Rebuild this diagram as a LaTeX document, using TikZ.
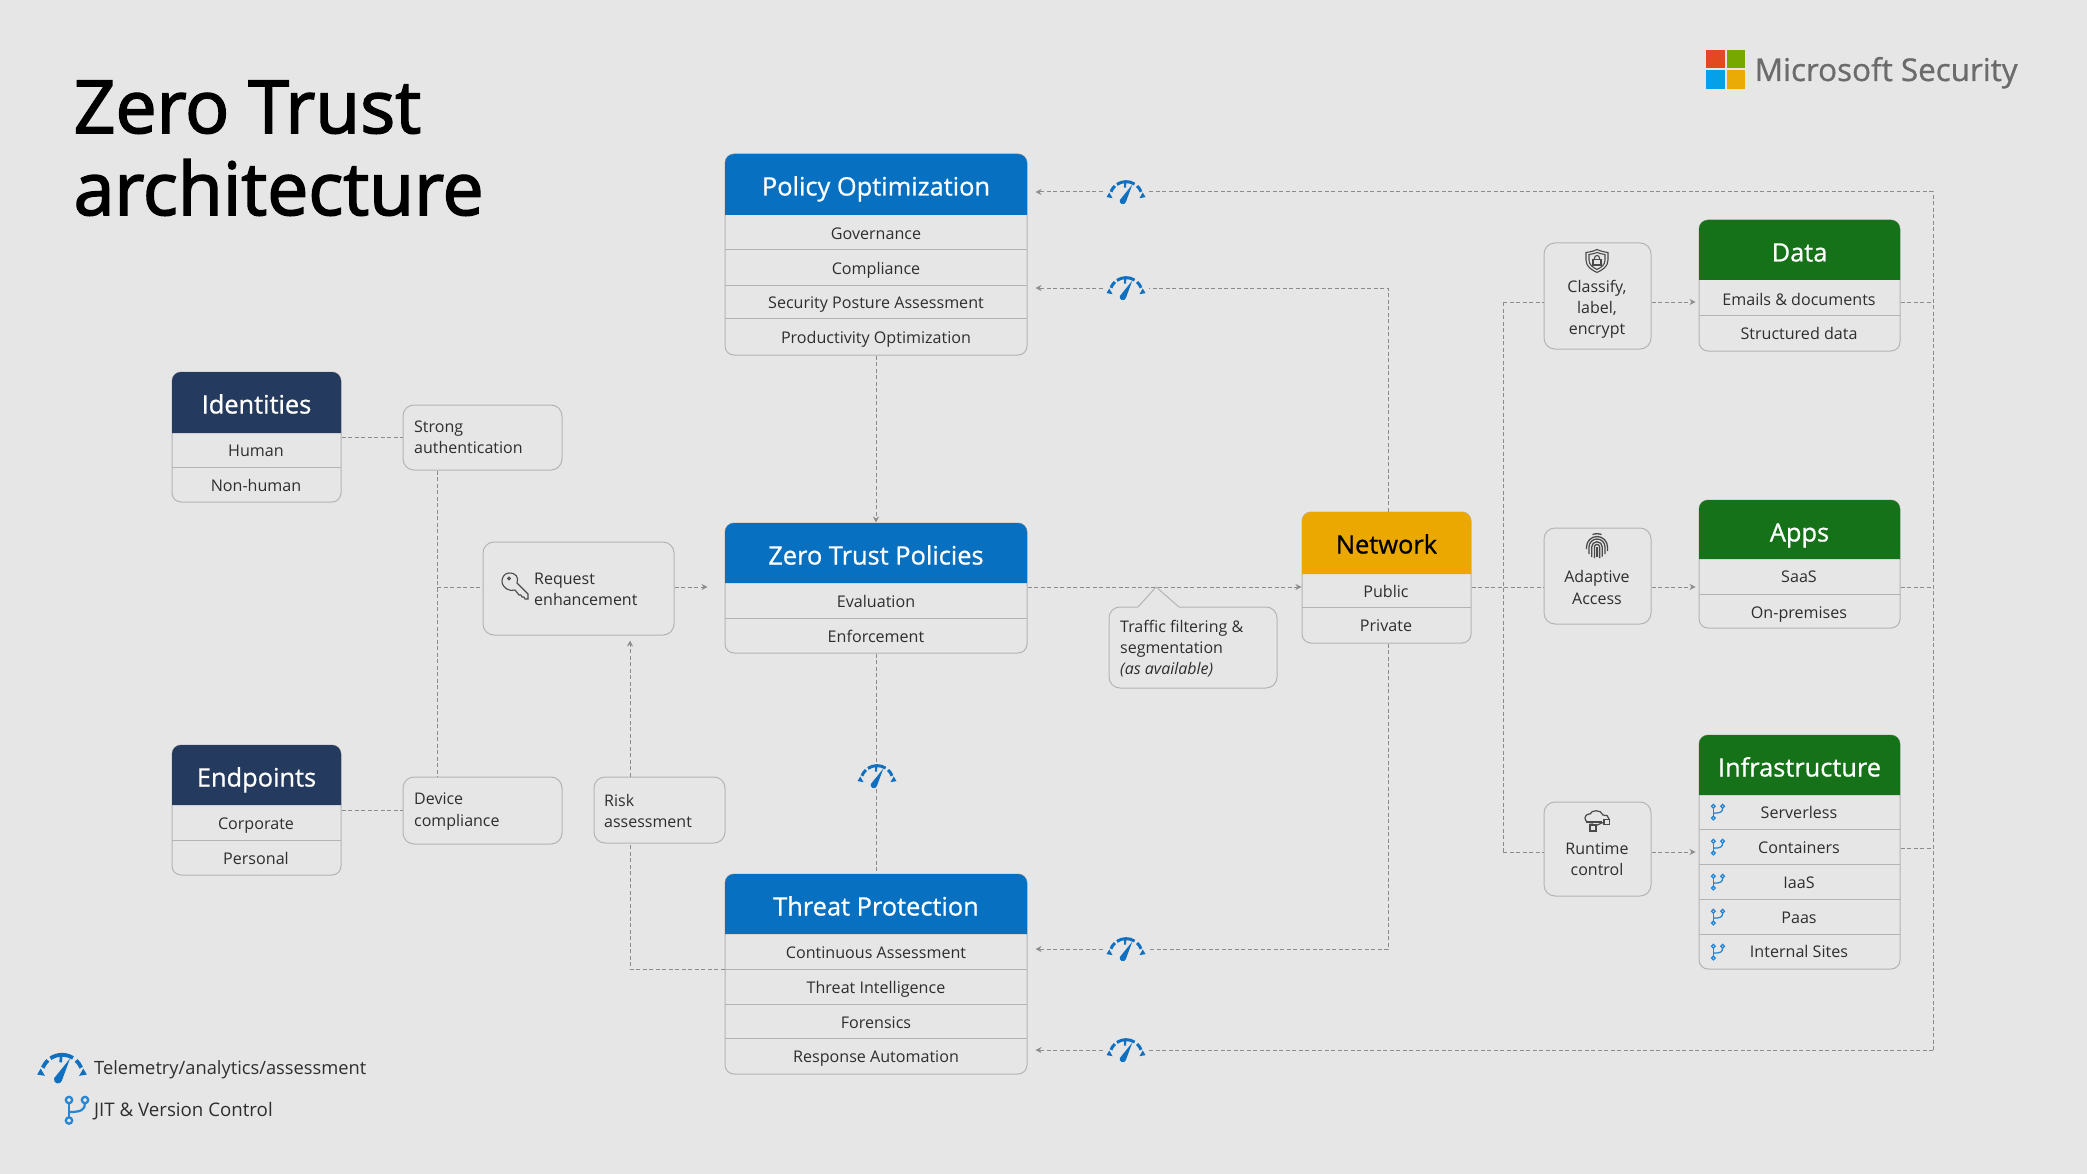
\documentclass[tikz,border=0pt]{standalone}
\usepackage{fontspec}
\setmainfont{Open Sans}
\usetikzlibrary{arrows.meta,calc}
\definecolor{bgc}{HTML}{E6E6E6}
\definecolor{blueh}{HTML}{0870C0}
\definecolor{greenh}{HTML}{157218}
\definecolor{navyh}{HTML}{243A5E}
\definecolor{yellowh}{HTML}{EAA800}
\definecolor{edgec}{HTML}{B4B4B4}
\definecolor{linec}{HTML}{8C8C8C}
\definecolor{txtc}{HTML}{2E2E2E}
\definecolor{iconc}{HTML}{0F6FC0}
\definecolor{branchc}{HTML}{2385D4}
\definecolor{iconk}{HTML}{4A4A4A}
\definecolor{msr}{HTML}{E2491F}
\definecolor{msg}{HTML}{77A800}
\definecolor{msb}{HTML}{05A0E8}
\definecolor{msy}{HTML}{EBAB07}
\newfontfamily\titlefont[FakeBold=2.2]{Open Sans}
\newfontfamily\headfont[FakeBold=0.8]{Open Sans}
\tikzset{
  cardbox/.style={draw=edgec,line width=1pt,rounded corners=9pt,inner sep=0pt},
  headtxt/.style={text=white,font=\fontsize{25.4}{30}\headfont,inner sep=0pt,anchor=base},
  rowtxt/.style={text=txtc,font=\fontsize{16.1}{18}\selectfont,inner sep=0pt},
  divider/.style={draw=edgec,line width=1pt},
  callout/.style={draw=edgec,line width=1pt,rounded corners=11pt,inner sep=0pt},
  calltxt/.style={text=txtc,font=\fontsize{16}{21.2}\selectfont,inner sep=0pt,align=left},
  callctr/.style={text=txtc,font=\fontsize{16}{21.2}\selectfont,inner sep=0pt,align=center},
  conn/.style={draw=linec,line width=1pt,dash pattern=on 4pt off 2.5pt},
  arr/.style={conn,-{Stealth[length=6pt,width=6pt]}},
  gap/.style={minimum width=46pt,minimum height=26pt,inner sep=0pt},
  pics/gauge/.style={code={
    \begin{scope}[x=1pt,y=1pt,scale=#1]
      \draw[iconc,line width=3.4pt*#1] (0,-6.7) ++(22:18.5) arc (22:47:18.5);
      \draw[iconc,line width=3.4pt*#1] (0,-6.7) ++(58:18.5) arc (58:124:18.5);
      \draw[iconc,line width=3.4pt*#1] (0,-6.7) ++(133:18.5) arc (133:158:18.5);
      \fill[iconc] (0,-6.7) ++(162:20) -- ++(-60:7.5) -- ++(170:7) -- cycle;
      \fill[iconc] (0,-6.7) ++(18:20) -- ++(240:7.5) -- ++(10:7) -- cycle;
      \draw[iconc,line width=2.4pt*#1] (-0.8,10.5) -- (-1.2,5);
      \fill[iconc] (7.2,8.5) -- (-0.2,-11.5) arc (-20:-200:3.6) -- cycle;
    \end{scope}}},
  pics/branch/.style={code={
    \begin{scope}[x=1pt,y=1pt,scale=#1,line width=2.2pt*#1,draw=branchc]
      \draw (-8,10) circle (3.2) (8,10) circle (3.2) (-8,-10.5) circle (3.2);
      \draw (-8,6.8) -- (-8,-7.3);
      \draw (8,6.8) .. controls (8,0) and (4,-2) .. (-8,-2);
    \end{scope}}},
  pics/shield/.style={code={
    \begin{scope}[x=1pt,y=1pt,draw=iconk,line width=1.1pt]
      \draw (0,11.5) .. controls (3,10) and (7,9) .. (11,8.5) -- (11,1) .. controls (11,-6) and (5,-9) .. (0,-11.5) .. controls (-5,-9) and (-11,-6) .. (-11,1) -- (-11,8.5) .. controls (-7,9) and (-3,10) .. cycle;
      \draw (0,8.5) .. controls (2,7.5) and (5,7) .. (8,6.5) -- (8,1) .. controls (8,-4) and (4,-6.5) .. (0,-8.5) .. controls (-4,-6.5) and (-8,-4) .. (-8,1) -- (-8,6.5) .. controls (-5,7) and (-2,7.5) .. cycle;
      \draw (-4,-4) rectangle (4,1.5);
      \draw (-2.5,1.5) -- (-2.5,3) arc (180:0:2.5) -- (2.5,1.5);
    \end{scope}}},
  pics/printic/.style={code={
    \begin{scope}[x=1pt,y=1pt,draw=iconk,line width=1.3pt]
      \draw (-4.5,11.5) .. controls (-2,12.5) and (2,12.5) .. (4.5,11.5);
      \draw (-10.5,-3) -- (-10.5,-1) arc (180:0:10.5) -- (10.5,-5);
      \draw (-8,-8) -- (-8,-1) arc (180:0:8) -- (8,-8);
      \draw (-5.3,-11) -- (-5.3,-1) arc (180:0:5.3) -- (5.3,-10.5);
      \draw (-2.6,-12) -- (-2.6,-1) arc (180:0:2.6) -- (2.6,-12);
      \draw (0,-11) -- (0,-1);
    \end{scope}}},
  pics/cloudic/.style={code={
    \begin{scope}[x=1pt,y=1pt,draw=iconk,line width=1.2pt]
      \draw (-4,-2) .. controls (-8,-2) and (-12,-1) .. (-12,3) .. controls (-12,6) and (-8,7.5) .. (-7,7) .. controls (-6,11) and (4,12) .. (6,6) .. controls (9,6.5) and (12,5) .. (12,2);
      \draw (-11,-1) -- (5,-1);
      \draw (-7,-10) rectangle (-1,-4);
      \draw (7,-3.5) rectangle (12.5,1.5);
      \draw (-2,-5) -- (7,-1);
    \end{scope}}},
  pics/keyic/.style={code={
    \begin{scope}[x=1pt,y=1pt,draw=iconk,line width=1.1pt]
      \draw (-6,13) .. controls (1,13) and (4,9) .. (2,3) -- (13,-8) -- (13,-13) -- (10,-13) -- (9,-11) -- (7,-11) -- (6,-9) -- (4,-9) -- (0,-4) .. controls (-5,-6) and (-13,-2) .. (-13,5) .. controls (-13,9) and (-10,13) .. (-6,13) -- cycle;
      \draw (-6,7.5) circle (1.3);
    \end{scope}}}
}
% card: name, x0, x1, ytop, yhead, ybottom, colour, title
\newcommand{\card}[8]{%
  \pgfmathsetmacro{\cxx}{(#2+#3)/2}\pgfmathsetmacro{\cyy}{(#4+#6)/2}%
  \pgfmathsetmacro{\cww}{#3-#2}\pgfmathsetmacro{\chh}{#6-#4}%
  \node[cardbox,minimum width=\cww pt,minimum height=\chh pt] (#1) at (\cxx,\cyy) {};
  \fill[#7,rounded corners=9pt] (#2,#5) [sharp corners] -- (#2,#5-12) [rounded corners=9pt] -- (#2,#4) -- (#3,#4) -- (#3,#5-12) [sharp corners] -- (#3,#5) -- cycle;
  \node[headtxt] (#1h) at (\cxx,#4+41.5) {#8};
}
\newcommand{\crow}[4]{\node[rowtxt,anchor=base] (#1) at (#2,#3+6.5) {#4};}
\newcommand{\cdiv}[3]{\draw[divider] (#1,#3) -- (#2,#3);}
\newcommand{\cbox}[5]{%
  \pgfmathsetmacro{\cxx}{(#2+#3)/2}\pgfmathsetmacro{\cyy}{(#4+#5)/2}%
  \pgfmathsetmacro{\cww}{#3-#2}\pgfmathsetmacro{\chh}{#5-#4}%
  \node[callout,minimum width=\cww pt,minimum height=\chh pt] (#1) at (\cxx,\cyy) {};
}
\begin{document}
\begin{tikzpicture}[x=1pt,y=-1pt]
\useasboundingbox[fill=bgc] (0,0) rectangle (2087,1174);
% title
\node[anchor=base west,inner sep=0pt,font=\fontsize{73.3}{80}\titlefont,text=black] (t1) at (73.5,133) {Zero Trust};
\node[anchor=base west,inner sep=0pt,font=\fontsize{73.3}{80}\titlefont,text=black] (t2) at (73.5,215) {architecture};
% logo
\fill[msr] (1706,50) rectangle (1724.5,68.5);
\fill[msg] (1726.5,50) rectangle (1745,68.5);
\fill[msb] (1706,70.5) rectangle (1724.5,89);
\fill[msy] (1726.5,70.5) rectangle (1745,89);
\node[anchor=base west,inner sep=0pt,font=\fontsize{31.4}{36}\headfont,text=black!58] (brand) at (1754.5,81) {Microsoft Security};
% cards
\card{po}{725}{1027}{154}{215}{355}{blueh}{Policy Optimization}
\cdiv{725}{1027}{250}\cdiv{725}{1027}{285}\cdiv{725}{1027}{318}
\crow{po1}{876}{233}{Governance}\crow{po2}{876}{268}{Compliance}\crow{po3}{876}{302}{Security Posture Assessment}\crow{po4}{876}{337}{Productivity Optimization}
\card{zt}{725}{1027}{523}{583}{653}{blueh}{Zero Trust Policies}
\cdiv{725}{1027}{618}
\crow{zt1}{876}{601}{Evaluation}\crow{zt2}{876}{636}{Enforcement}
\card{tp}{725}{1027}{874}{934}{1074}{blueh}{Threat Protection}
\cdiv{725}{1027}{969}\cdiv{725}{1027}{1004}\cdiv{725}{1027}{1038}
\crow{tp1}{876}{952}{Continuous Assessment}\crow{tp2}{876}{987}{Threat Intelligence}\crow{tp3}{876}{1022}{Forensics}\crow{tp4}{876}{1056}{Response Automation}
\card{id}{172}{341}{372}{433}{502}{navyh}{Identities}
\cdiv{172}{341}{467}
\crow{id1}{256}{450}{Human}\crow{id2}{256}{485}{Non-human}
\card{ep}{172}{341}{745}{805}{875}{navyh}{Endpoints}
\cdiv{172}{341}{840}
\crow{ep1}{256}{823}{Corporate}\crow{ep2}{256}{858}{Personal}
\card{nw}{1302}{1471}{512}{574}{643}{yellowh}{\textcolor{black}{Network}}
\cdiv{1302}{1471}{607}
\crow{nw1}{1386}{591}{Public}\crow{nw2}{1386}{625}{Private}
\card{da}{1699}{1900}{220}{280}{351}{greenh}{Data}
\cdiv{1699}{1900}{315}
\crow{da1}{1799}{299}{Emails \& documents}\crow{da2}{1799}{333}{Structured data}
\card{ap}{1699}{1900}{500}{559}{628}{greenh}{Apps}
\cdiv{1699}{1900}{594}
\crow{ap1}{1799}{576}{SaaS}\crow{ap2}{1799}{612}{On-premises}
\card{in}{1699}{1900}{735}{795}{969}{greenh}{Infrastructure}
\cdiv{1699}{1900}{829}\cdiv{1699}{1900}{864}\cdiv{1699}{1900}{899}\cdiv{1699}{1900}{934}
\crow{in1}{1799}{812}{Serverless}\crow{in2}{1799}{847}{Containers}\crow{in3}{1799}{882}{IaaS}\crow{in4}{1799}{917}{Paas}\crow{in5}{1799}{951}{Internal Sites}
\foreach \yy in {812,847,882,917,952}{\pic at (1718,\yy) {branch=0.58};}
% callouts
\cbox{sa}{403}{562}{405}{470}
\node[calltxt,anchor=west] (satxt) at (414,437.5) {Strong\\authentication};
\cbox{dc}{403}{562}{777}{844}
\node[calltxt,anchor=west] (dctxt) at (414,811.5) {Device\\compliance};
\cbox{ra}{594}{725}{777}{843}
\node[calltxt,anchor=west] (ratxt) at (604,811) {Risk\\assessment};
\cbox{re}{483}{674}{542}{635}
\node[calltxt,anchor=west] (retxt) at (534,589.5) {Request\\enhancement};
\pic at (515,586) {keyic};
% traffic callout with tail
\cbox{tf}{1109}{1277}{607}{688}
\fill[bgc] (1138,605) rectangle (1179,609);
\draw[edgec,line width=1pt] (1138,607) -- (1156,587) -- (1179,607);
\coordinate (tftip) at (1156,587);
\node[calltxt,anchor=west] (tftxt) at (1120,648.5) {Traffic filtering \&\\segmentation\\\textit{(as available)}};
% gates
\cbox{cl}{1544}{1651}{243}{349}
\pic at (1597,261) {shield};
\node[callctr] (cltxt) at (1597,309.5) {Classify,\\label,\\encrypt};
\cbox{ad}{1544}{1651}{528}{624}
\pic at (1597,546) {printic};
\node[callctr] (adtxt) at (1597,587.5) {Adaptive\\Access};
\cbox{rt}{1544}{1651}{802}{896}
\pic at (1597,821) {cloudic};
\node[callctr] (rttxt) at (1597,859.5) {Runtime\\control};
% gauges
\node[gap] (g1) at (1126,192) {}; \pic at (g1) {gauge=0.88};
\node[gap] (g2) at (1126,288) {}; \pic at (g2) {gauge=0.88};
\node[gap] (g3) at (877,776) {}; \pic at (g3) {gauge=0.88};
\node[gap] (g4) at (1126,949) {}; \pic at (g4) {gauge=0.88};
\node[gap] (g5) at (1126,1050) {}; \pic at (g5) {gauge=0.88};
% junction coordinates
\coordinate (jl) at (437,587);
\coordinate (jr) at (1503,587);
\coordinate (jcl) at (1503,302);
\coordinate (jrt) at (1503,852);
\coordinate (jtr) at (630,969);
\coordinate (jin) at (1933,848);
\coordinate (otop) at (1933,192);
\coordinate (obot) at (1933,1050);
\coordinate (n2) at (1388,288);
\coordinate (n4) at (1388,949);
% connectors
\draw[conn] (id.east |- sa.west) -- (sa.west);
\draw[conn] (ep.east |- dc.west) -- (dc.west);
\draw[conn] (sa.south -| jl) -- (dc.north -| jl);
\draw[conn] (jl) -- (re.west |- jl);
\draw[arr,shorten >=17pt] (re.east |- jl) -- (zt.west |- jl);
\draw[arr,shorten >=5pt] (jtr |- ra.north) -- (jtr |- re.south);
\draw[conn] (tp.west |- jtr) -- (jtr) -- (jtr |- ra.south);
\draw[arr] (po.south) -- (zt.north);
\draw[conn] (zt.south) -- (g3.north -| zt.south);
\draw[conn] (g3.south -| zt.south) -- (tp.north);
\draw[arr] (zt.east |- jl) -- (nw.west |- jl);
\draw[conn] (nw.east |- jl) -- (jr) -- (ad.west |- jr);
\draw[arr,shorten >=3pt] (ad.east |- jl) -- (ap.west |- jl);
\draw[conn] (jcl) -- (jrt);
\draw[conn] (jcl) -- (cl.west |- jcl);
\draw[conn] (jrt) -- (rt.west |- jrt);
\draw[arr,shorten >=3pt] (cl.east |- jcl) -- (da.west |- jcl);
\draw[arr,shorten >=3pt] (rt.east |- jrt) -- (in.west |- jrt);
\draw[conn] (nw.north -| n2) -- (n2) -- (g2.east);
\draw[arr,shorten >=8pt] (g2.west) -- (po.east |- g2);
\draw[conn] (nw.south -| n4) -- (n4) -- (g4.east);
\draw[arr,shorten >=8pt] (g4.west) -- (tp.east |- g4);
\draw[conn] (obot) -- (otop) -- (g1.east);
\draw[arr,shorten >=8pt] (g1.west) -- (po.east |- g1);
\draw[conn] (obot) -- (g5.east);
\draw[arr,shorten >=8pt] (g5.west) -- (tp.east |- g5);
\draw[conn] (da.east |- jcl) -- (jcl -| otop);
\draw[conn] (ap.east |- jl) -- (jl -| otop);
\draw[conn] (in.east |- jin) -- (jin);
% legend
\pic at (62,1068) {gauge=1.12};
\node[anchor=base west,inner sep=0pt,text=txtc,font=\fontsize{18.3}{21}\selectfont] (lg1) at (94,1074) {Telemetry/analytics/assessment};
\pic at (77,1110) {branch=1};
\node[anchor=base west,inner sep=0pt,text=txtc,font=\fontsize{18.7}{21}\selectfont] (lg2) at (94,1116) {JIT \& Version Control};
\end{tikzpicture}
\end{document}
